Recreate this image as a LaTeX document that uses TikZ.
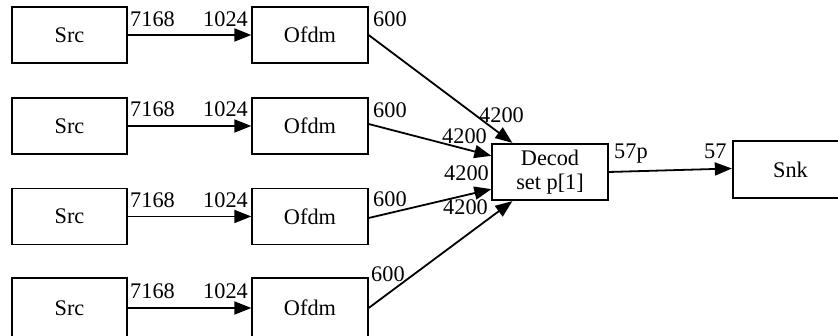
\documentclass[tikz,border=0pt]{standalone}
\usepackage{fontspec}
\setmainfont{Liberation Serif}
\usetikzlibrary{arrows.meta}
\begin{document}
\begin{tikzpicture}[x=1pt,y=-1pt,
  every node/.style={font=\fontsize{22.3}{24}\selectfont},
  blk/.style={draw,line width=1.8pt,minimum width=115.5pt,minimum height=56pt,inner sep=0pt,align=center},
  lbl/.style={anchor=base west,inner sep=0pt},
  conn/.style={line width=1.8pt,-{Triangle[length=17pt,width=13pt]}}]
\fill[white] (0,0) rectangle (838,336);
\useasboundingbox (0,0) rectangle (838,336);
\clip (0,0) rectangle (838,336);
% sources
\node[blk] (s1) at (69.5,35) {Src};
\node[blk] (s2) at (69.5,126) {Src};
\node[blk] (s3) at (69.5,216.5) {Src};
\node[blk,minimum height=60pt] (s4) at (69.5,308) {Src};
% ofdm
\node[blk] (o1) at (310,35) {Ofdm};
\node[blk] (o2) at (310,126) {Ofdm};
\node[blk] (o3) at (310,216.5) {Ofdm};
\node[blk,minimum height=60pt] (o4) at (310,308) {Ofdm};
% decoder and sink
\node[blk,minimum height=56.5pt] (dec) at (550,172) {Decod\\set p[1]};
\node[blk,minimum height=57pt] (snk) at (790.5,169.5) {Snk};
% edges
\draw[conn] (s1.east) -- (o1.west);
\draw[conn] (s2.east) -- (o2.west);
\draw[conn] (s3.east) -- (o3.west);
\draw[conn] (s4.east) -- (o4.west);
\draw[conn] (o1.east) -- ([xshift=21pt]dec.north west);
\draw[conn] ([yshift=2pt]o2.east) -- ([yshift=-13pt]dec.north west);
\draw[conn] ([yshift=-1.5pt]o3.east) -- ([yshift=12pt]dec.south west);
\draw[conn] (o4.east) -- ([xshift=21pt]dec.south west);
\draw[conn] (dec.east) -- ([yshift=1pt]snk.west);
% labels
\foreach \y/\i in {27/1,117/2,208/3,299/4}{
  \node[lbl] (ta\i) at (130,\y) {7168};
  \node[lbl] (ha\i) at (203,\y) {1024};
}
\node[lbl] (tb1) at (373,27) {600};
\node[lbl] (tb2) at (373,118) {600};
\node[lbl] (tb3) at (373,207) {600};
\node[lbl] (tb4) at (371,282) {600};
\node[lbl] (hb1) at (479,123) {4200};
\node[lbl] (hb2) at (442,144) {4200};
\node[lbl] (hb3) at (444,181) {4200};
\node[lbl] (hb4) at (443,215) {4200};
\node[lbl] (tc) at (614,159) {57p};
\node[lbl] (hc) at (704,159) {57};
\end{tikzpicture}
\end{document}
